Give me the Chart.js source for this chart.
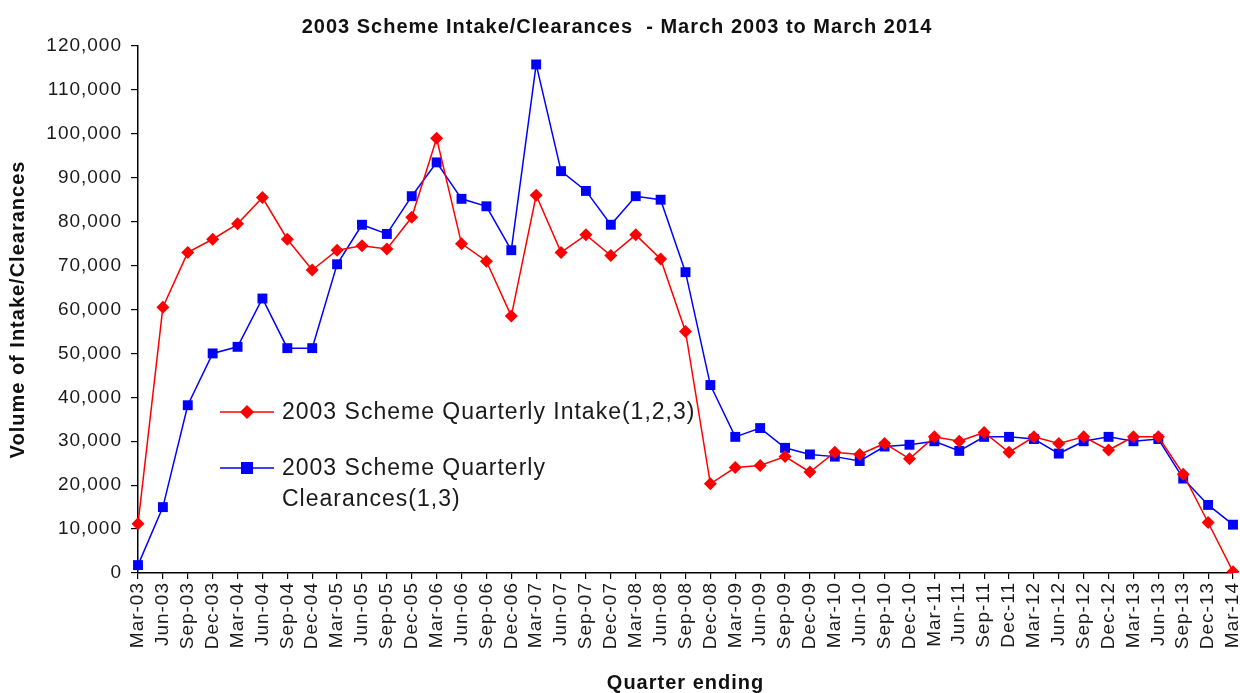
<!DOCTYPE html>
<html>
<head>
<meta charset="utf-8">
<script src="https://cdn.jsdelivr.net/npm/chart.js@4.4.1/dist/chart.umd.min.js"></script>
<style>
  body { margin: 0; background: #fff; }
  #wrap { position: relative; width: 1240px; height: 693px; }
  #legend {
    position: absolute; left: 218px; top: 396px;
    font-family: "Liberation Sans", Arial, sans-serif; font-size: 23px;
    letter-spacing: 1px; color: #1a1a1a;
  }
  .item { display: flex; align-items: flex-start; }
  .item svg { flex: none; margin-right: 6px; }
  .item span { line-height: 31px; }
  .item + .item { margin-top: 25px; }
</style>
</head>
<body>
<div id="wrap">
  <canvas id="chart" width="1240" height="693"></canvas>
  <div id="legend">
    <div class="item">
      <svg width="58" height="31"><line x1="2" y1="16" x2="56" y2="16" stroke="#ff0000" stroke-width="1.5"/><polygon points="29,9 36,16 29,23 22,16" fill="#ff0000"/></svg>
      <span>2003 Scheme Quarterly Intake(1,2,3)</span>
    </div>
    <div class="item">
      <svg width="58" height="31"><line x1="2" y1="16" x2="56" y2="16" stroke="#0000ff" stroke-width="1.5"/><rect x="23" y="10" width="12" height="12" fill="#0000ff"/></svg>
      <span>2003 Scheme Quarterly<br>Clearances(1,3)</span>
    </div>
  </div>
</div>
<script>
const quarters = [
  'Mar-03', 'Jun-03', 'Sep-03', 'Dec-03',
  'Mar-04', 'Jun-04', 'Sep-04', 'Dec-04',
  'Mar-05', 'Jun-05', 'Sep-05', 'Dec-05',
  'Mar-06', 'Jun-06', 'Sep-06', 'Dec-06',
  'Mar-07', 'Jun-07', 'Sep-07', 'Dec-07',
  'Mar-08', 'Jun-08', 'Sep-08', 'Dec-08',
  'Mar-09', 'Jun-09', 'Sep-09', 'Dec-09',
  'Mar-10', 'Jun-10', 'Sep-10', 'Dec-10',
  'Mar-11', 'Jun-11', 'Sep-11', 'Dec-11',
  'Mar-12', 'Jun-12', 'Sep-12', 'Dec-12',
  'Mar-13', 'Jun-13', 'Sep-13', 'Dec-13',
  'Mar-14'
];

const intake = [
  11200, 60500, 73000, 76000,
  79500, 85500, 76000, 69000,
  73500, 74500, 73800, 81000,
  99000, 75000, 71000, 58500,
  86000, 73000, 77000, 72300,
  77000, 71500, 55000, 20300,
  24000, 24500, 26500, 23000,
  27500, 27000, 29500, 26000,
  31000, 30000, 32000, 27500,
  31000, 29500, 31000, 28000,
  31000, 31000, 22500, 11500,
  300
];

const clearances = [
  1800, 15000, 38200, 50000,
  51500, 62500, 51200, 51200,
  70300, 79300, 77200, 85800,
  93500, 85200, 83500, 73500,
  115800, 91500, 87000, 79300,
  85800, 85000, 68500, 42800,
  31000, 33000, 28500, 27000,
  26500, 25500, 28800, 29200,
  30000, 27800, 31000, 31000,
  30500, 27200, 30000, 31000,
  30000, 30500, 21500, 15500,
  11000
];

const FONT = '"Liberation Sans", Arial, sans-serif';

// the original text is drawn with a little extra spacing between letters
const spacing = {
  id: 'spacing',
  beforeLayout(chart) { chart.ctx.letterSpacing = '1px'; },
  beforeDraw(chart) { chart.ctx.letterSpacing = '1px'; }
};

new Chart(document.getElementById('chart'), {
  type: 'line',
  data: {
    labels: quarters,
    datasets: [
      {
        label: '2003 Scheme Quarterly Intake(1,2,3)',
        data: intake,
        borderColor: '#ff0000',
        backgroundColor: '#ff0000',
        borderWidth: 1.5,
        pointStyle: 'rectRot',
        pointRadius: 6.5,
        pointBorderWidth: 0,
        tension: 0
      },
      {
        label: '2003 Scheme Quarterly Clearances(1,3)',
        data: clearances,
        borderColor: '#0000ff',
        backgroundColor: '#0000ff',
        borderWidth: 1.5,
        pointStyle: 'rect',
        pointRadius: 7,
        pointBorderWidth: 0,
        tension: 0
      }
    ]
  },
  options: {
    responsive: false,
    animation: false,
    layout: { padding: { left: 0, right: 6, top: 0, bottom: 0 } },
    plugins: {
      legend: { display: false },
      tooltip: { enabled: false },
      title: {
        display: true,
        text: '2003 Scheme Intake/Clearances  - March 2003 to March 2014',
        color: '#111',
        font: { family: FONT, size: 20, weight: 'bold', lineHeight: 1.2 },
        padding: { top: 15, bottom: 7 }
      }
    },
    scales: {
      x: {
        offset: false,
        grid: { drawOnChartArea: false, color: '#000', tickLength: 6, lineWidth: 1.2 },
        border: { color: '#000', width: 1.5 },
        ticks: {
          autoSkip: false, minRotation: 90, maxRotation: 90, padding: 3,
          color: '#1a1a1a', font: { family: FONT, size: 19 }
        },
        title: {
          display: true, text: 'Quarter ending', color: '#111',
          font: { family: FONT, size: 20, weight: 'bold', lineHeight: 1 },
          padding: { top: 0, bottom: 0 }
        },
        afterFit(scale) {
          scale.height = 120;
          scale.paddingLeft = 0;
          scale.paddingRight = 0;
        }
      },
      y: {
        min: 0,
        max: 120000,
        grid: { drawOnChartArea: false, color: '#000', tickLength: 7, lineWidth: 1.2 },
        border: { color: '#000', width: 1.5 },
        ticks: {
          stepSize: 10000, padding: 9, color: '#1a1a1a',
          font: { family: FONT, size: 19 },
          callback: v => v.toLocaleString('en-US')
        },
        title: {
          display: true, text: 'Volume of Intake/Clearances', color: '#111',
          font: { family: FONT, size: 20, weight: 'bold', lineHeight: 1.2 },
          padding: { top: 6, bottom: 0 }
        },
        afterFit(scale) { scale.width = 138; }
      }
    }
  },
  plugins: [spacing]
});
</script>
</body>
</html>
